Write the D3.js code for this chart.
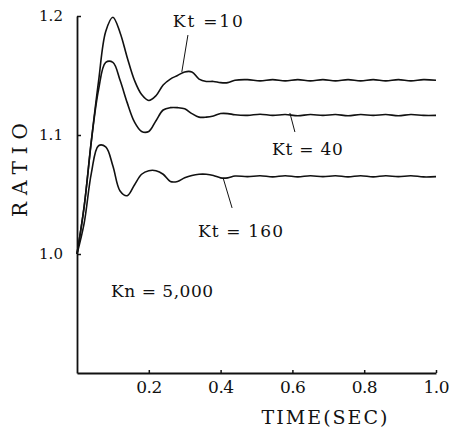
<!DOCTYPE html>
<html>
<head>
<meta charset="utf-8">
<script src="https://cdn.jsdelivr.net/npm/d3@7"></script>
<style>
  body { margin: 0; background: #fff; }
  text { font-family: "DejaVu Serif", "Liberation Serif", serif; fill: #111; }
</style>
</head>
<body>
<div id="chart-area"></div>
<script>
// time axis (sec) - dense at start, then every 0.035 s for the small ripple
var times = [0, 0.02, 0.04, 0.06, 0.08, 0.10, 0.12, 0.14, 0.16, 0.18, 0.20, 0.22,
  0.24, 0.26, 0.28, 0.30, 0.32, 0.34, 0.36, 0.38, 0.40, 0.42, 0.44,
  0.475, 0.51, 0.545, 0.58, 0.615, 0.65, 0.685, 0.72, 0.755, 0.79, 0.825,
  0.86, 0.895, 0.93, 0.965, 1.0];

var kt10 = [1.000, 1.040, 1.095, 1.145, 1.187, 1.199, 1.186, 1.165, 1.146, 1.134, 1.129, 1.133,
  1.142, 1.147, 1.150, 1.153, 1.153, 1.147, 1.145, 1.145, 1.144, 1.144, 1.146,
  1.1465, 1.1455, 1.1465, 1.1455, 1.1465, 1.1455, 1.1465, 1.1455, 1.1465, 1.1455, 1.1465,
  1.1455, 1.1465, 1.1455, 1.1465, 1.146];
var kt40 = [1.000, 1.040, 1.095, 1.138, 1.161, 1.161, 1.146, 1.127, 1.111, 1.103, 1.103, 1.112,
  1.121, 1.123, 1.123, 1.122, 1.118, 1.115, 1.115, 1.116, 1.118, 1.118, 1.117,
  1.1165, 1.1175, 1.1165, 1.1172, 1.1162, 1.1172, 1.1165, 1.1172, 1.1162, 1.1172, 1.1165,
  1.1172, 1.1162, 1.1172, 1.1165, 1.1165];
var kt160 = [1.000, 1.026, 1.068, 1.091, 1.090, 1.074, 1.053, 1.049, 1.058, 1.067, 1.070, 1.070,
  1.067, 1.061, 1.061, 1.064, 1.066, 1.067, 1.067, 1.066, 1.064, 1.064, 1.0655,
  1.065, 1.0658, 1.0648, 1.0658, 1.0648, 1.0658, 1.065, 1.0658, 1.0648, 1.0658, 1.0648,
  1.0658, 1.065, 1.0658, 1.0648, 1.065];

var xTicks = [0.2, 0.4, 0.6, 0.8, 1.0];
var yTicks = [1.0, 1.1, 1.2];

// labels: [text, t, ratio, width] and leader lines [t1, r1, t2, r2]
var labels = [
  ["Kt =10", 0.267, 1.1905, 70],
  ["Kt = 40", 0.543, 1.0832, 71],
  ["Kt = 160", 0.337, 1.0143, 85],
  ["Kn = 5,000", 0.095, 0.9639, 102]
];
var leaders = [
  [0.309, 1.184, 0.292, 1.153],
  [0.593, 1.1185, 0.607, 1.1025],
  [0.407, 1.0639, 0.432, 1.0387]
];

var W = 449, H = 429;
var svg = d3.select("#chart-area").append("svg")
  .attr("width", W)
  .attr("height", H);

var x = d3.scaleLinear().domain([0, 1]).range([77, 436]);
var y = d3.scaleLinear().domain([0.9, 1.2]).range([373, 16]);

// axes
var xAxis = d3.axisBottom(x).tickValues(xTicks).tickSizeInner(-3).tickSizeOuter(0)
  .tickPadding(8).tickFormat(d3.format(".1f"));
var yAxis = d3.axisLeft(y).tickValues(yTicks).tickSizeInner(-4).tickSizeOuter(0)
  .tickPadding(14).tickFormat(d3.format(".1f"));

var gx = svg.append("g").attr("transform", "translate(0," + y(0.9) + ")").call(xAxis);
var gy = svg.append("g").attr("transform", "translate(" + x(0) + ",0)").call(yAxis);

gx.select(".domain").attr("stroke", "#111").attr("stroke-width", 1.8);
gy.select(".domain").attr("stroke", "#111").attr("stroke-width", 1.8);
gx.selectAll(".tick line").attr("stroke", "#111").attr("stroke-width", 1.5);
gy.selectAll(".tick line").attr("stroke", "#111").attr("stroke-width", 1.5);
gx.selectAll(".tick text").attr("font-size", 17).attr("fill", "#111")
  .attr("font-family", null)
  .attr("textLength", 26).attr("lengthAdjust", "spacing");
gy.selectAll(".tick text").attr("font-size", 15).attr("fill", "#111")
  .attr("font-family", null)
  .attr("textLength", 24).attr("lengthAdjust", "spacing");

// axis titles
svg.append("text")
  .attr("x", (x(0) + x(1)) / 2 + 68)
  .attr("y", 424)
  .attr("font-size", 19)
  .attr("text-anchor", "middle")
  .attr("textLength", 126).attr("lengthAdjust", "spacing")
  .text("TIME(SEC)");

svg.append("text")
  .attr("transform", "translate(27,170) rotate(-90)")
  .attr("font-size", 20)
  .attr("text-anchor", "middle")
  .attr("textLength", 94).attr("lengthAdjust", "spacing")
  .text("RATIO");

// curves
var line = d3.line()
  .x(function(d) { return x(d[0]); })
  .y(function(d) { return y(d[1]); })
  .curve(d3.curveCatmullRom.alpha(0.5));

[kt10, kt40, kt160].forEach(function(series) {
  svg.append("path")
    .datum(times.map(function(t, i) { return [t, series[i]]; }))
    .attr("fill", "none")
    .attr("stroke", "#111")
    .attr("stroke-width", 1.6)
    .attr("d", line);
});

// leader lines
svg.selectAll(".leader").data(leaders).enter().append("line")
  .attr("class", "leader")
  .attr("x1", function(d) { return x(d[0]); })
  .attr("y1", function(d) { return y(d[1]); })
  .attr("x2", function(d) { return x(d[2]); })
  .attr("y2", function(d) { return y(d[3]); })
  .attr("stroke", "#111")
  .attr("stroke-width", 1);

// annotation labels
svg.selectAll(".lbl").data(labels).enter().append("text")
  .attr("class", "lbl")
  .attr("x", function(d) { return x(d[1]); })
  .attr("y", function(d) { return y(d[2]); })
  .attr("font-size", 17)
  .attr("textLength", function(d) { return d[3]; })
  .attr("lengthAdjust", "spacing")
  .text(function(d) { return d[0]; });
</script>
</body>
</html>
